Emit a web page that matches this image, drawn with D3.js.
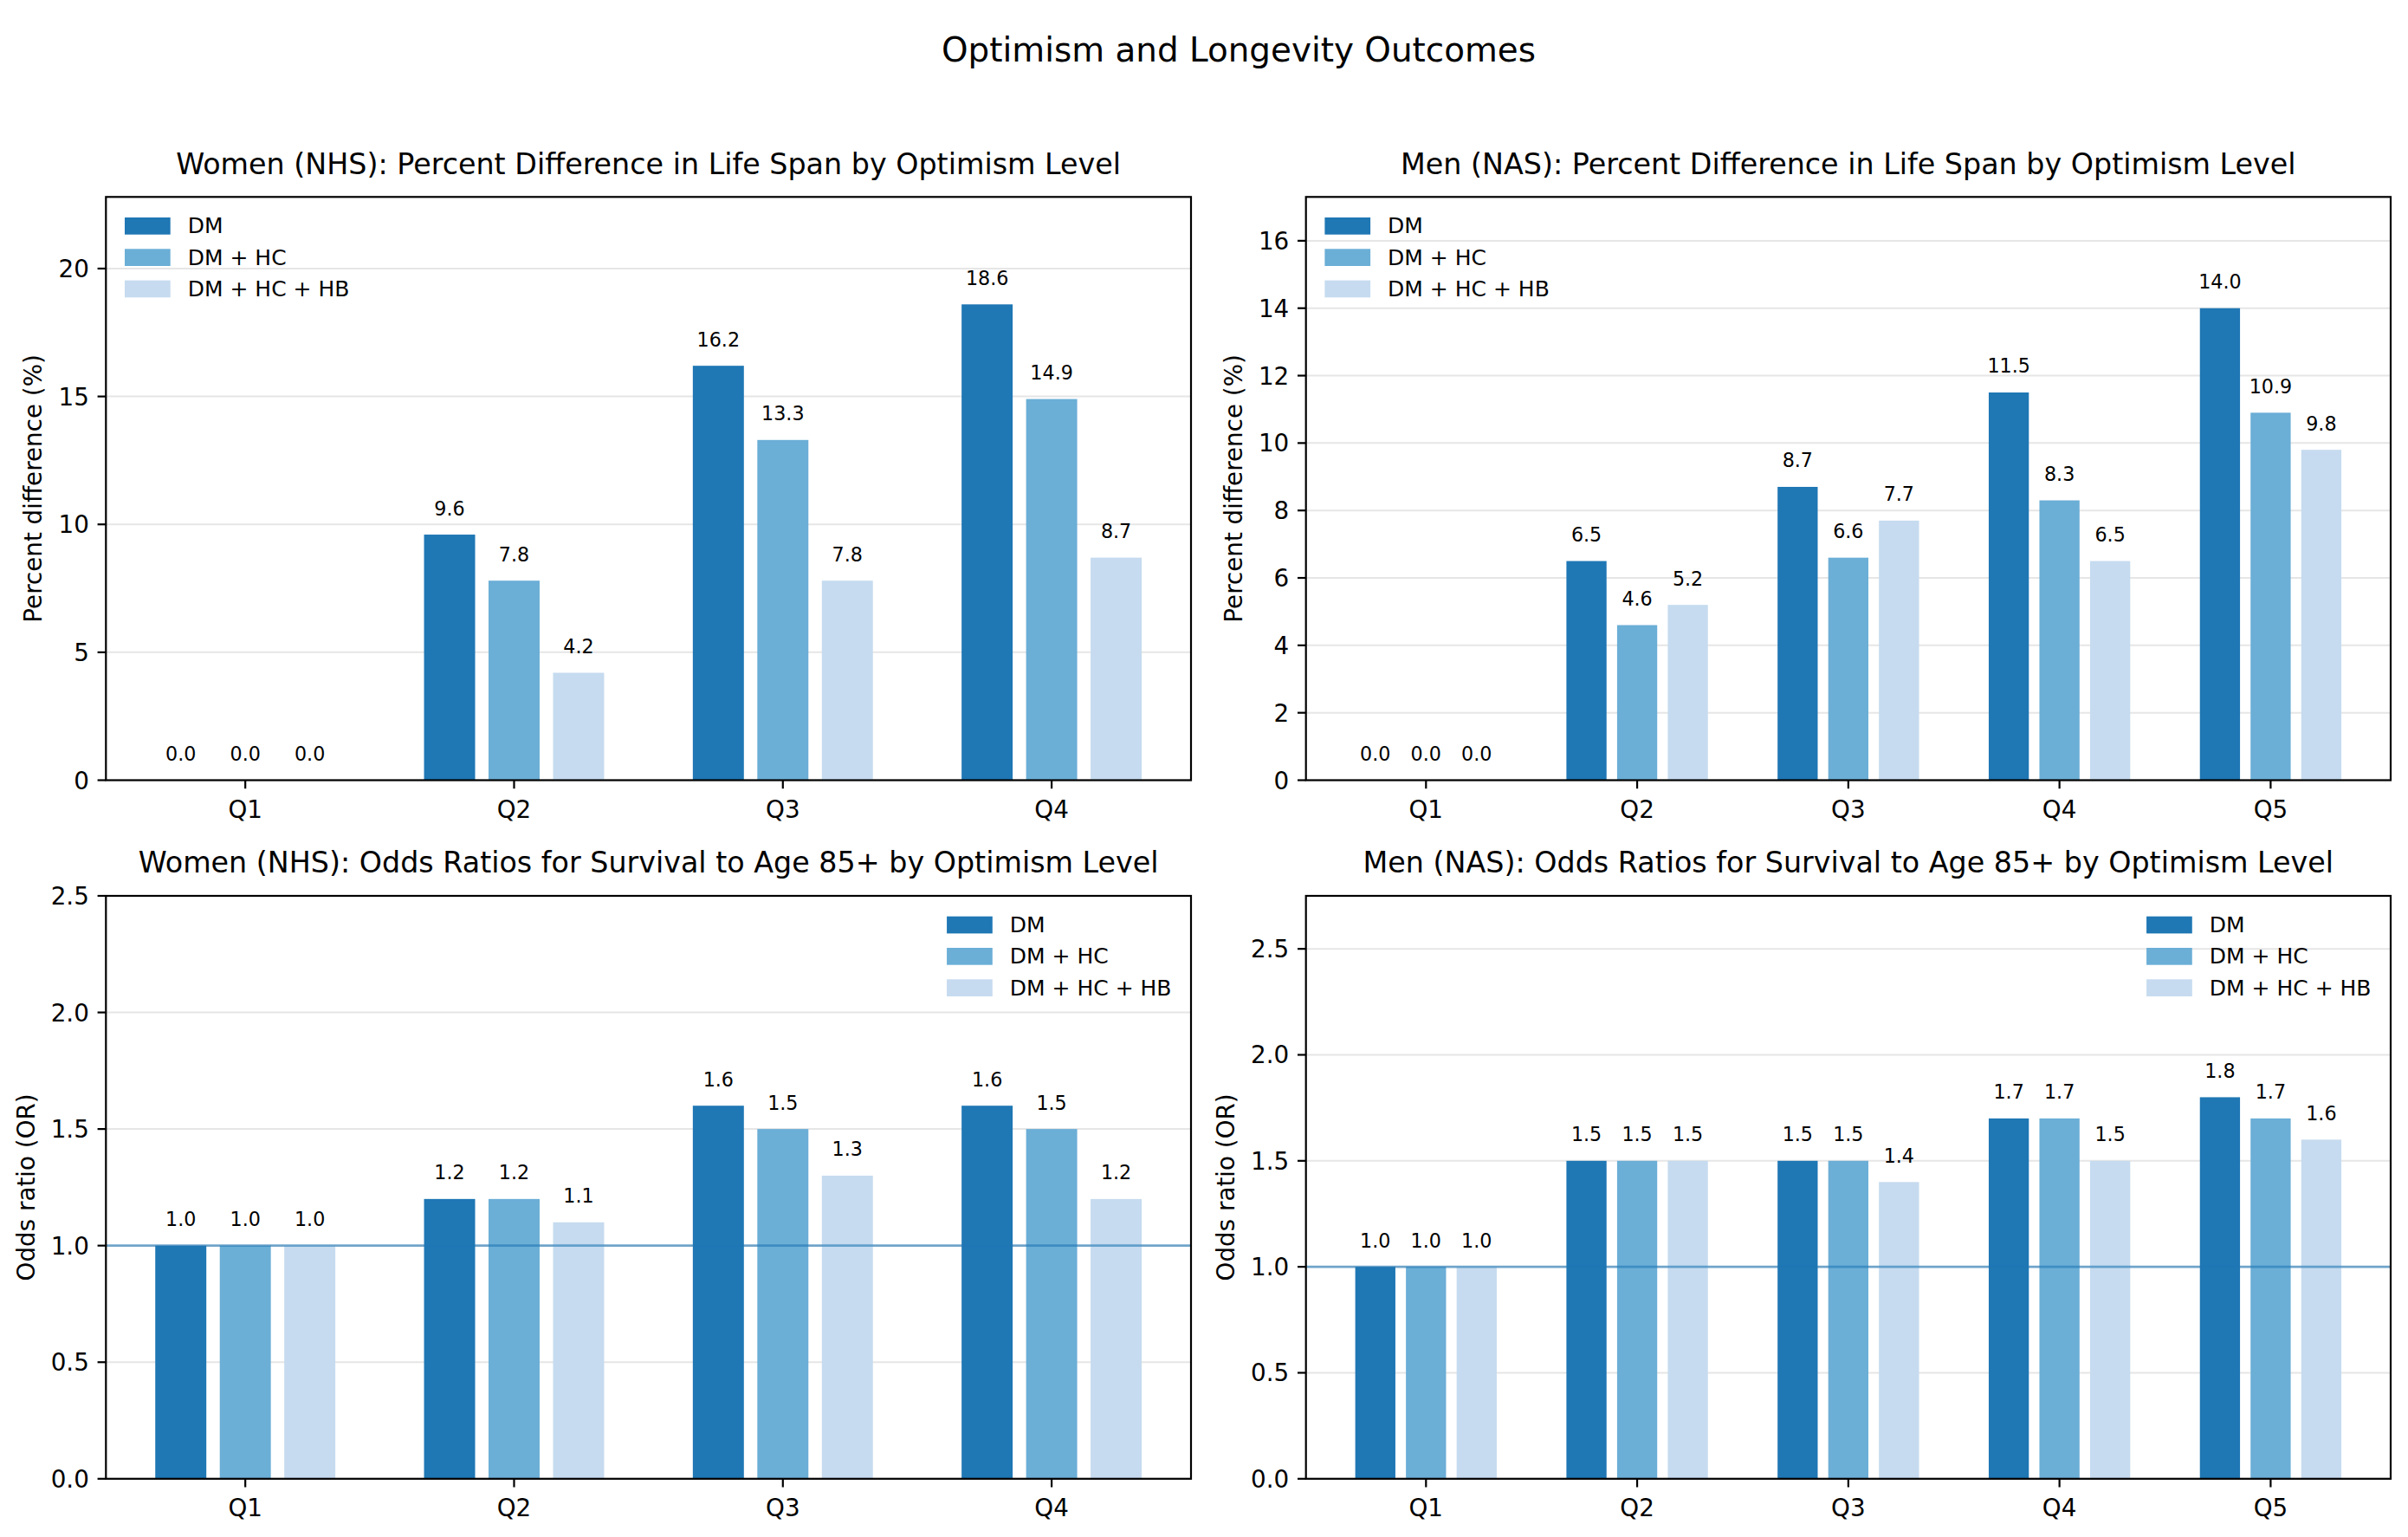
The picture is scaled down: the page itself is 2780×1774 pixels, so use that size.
<!DOCTYPE html>
<html>
<head>
<meta charset="utf-8">
<script src="https://cdn.jsdelivr.net/npm/d3@7"></script>
<style>
  body { margin: 0; background: #fff; }
  text { font-family: "DejaVu Sans", sans-serif; fill: #000; }
</style>
</head>
<body>
<div id="viz"></div>
<script>
// series / categories
const seriesNames = ['DM', 'DM + HC', 'DM + HC + HB'];
const seriesColors = ['#1f77b4', '#6baed6', '#c6dbef'];
const womenQuintiles = ['Q1', 'Q2', 'Q3', 'Q4'];
const menQuintiles = ['Q1', 'Q2', 'Q3', 'Q4', 'Q5'];

// percent difference in life span
const womenSpanDM = [0.0, 9.6, 16.2, 18.6];
const womenSpanHC = [0.0, 7.8, 13.3, 14.9];
const womenSpanHB = [0.0, 4.2, 7.8, 8.7];
const menSpanDM = [0.0, 6.5, 8.7, 11.5, 14.0];
const menSpanHC = [0.0, 4.6, 6.6, 8.3, 10.9];
const menSpanHB = [0.0, 5.2, 7.7, 6.5, 9.8];

// odds ratios for survival to 85+
const womenOrDM = [1.0, 1.2, 1.6, 1.6];
const womenOrHC = [1.0, 1.2, 1.5, 1.5];
const womenOrHB = [1.0, 1.1, 1.3, 1.2];
const menOrDM = [1.0, 1.5, 1.5, 1.7, 1.8];
const menOrHC = [1.0, 1.5, 1.5, 1.7, 1.7];
const menOrHB = [1.0, 1.5, 1.4, 1.5, 1.6];

// tick values
const womenSpanTicks = [0, 5, 10, 15, 20];
const menSpanTicks = [0, 2, 4, 6, 8, 10, 12, 14, 16];
const orTicks = [0, 0.5, 1.0, 1.5, 2.0, 2.5];

const W = 2780, H = 1774;
const PT = 200 / 72; // px per point

const svg = d3.select('#viz').append('svg')
  .attr('width', W).attr('height', H)
  .style('background', '#fff');

svg.append('text')
  .attr('x', 1430).attr('y', 71)
  .attr('text-anchor', 'middle')
  .style('font-size', (14 * PT) + 'px')
  .text('Optimism and Longevity Outcomes');

const panels = [
  { title: 'Women (NHS): Percent Difference in Life Span by Optimism Level',
    cats: womenQuintiles, values: [womenSpanDM, womenSpanHC, womenSpanHB],
    yMax: 22.8, ticks: womenSpanTicks, fmt: d3.format('d'),
    ylabel: 'Percent difference (%)', legend: 'left', ref: null,
    box: { x0: 122.3, x1: 1375, y0: 227.3, y1: 900.5 } },
  { title: 'Men (NAS): Percent Difference in Life Span by Optimism Level',
    cats: menQuintiles, values: [menSpanDM, menSpanHC, menSpanHB],
    yMax: 17.3, ticks: menSpanTicks, fmt: d3.format('d'),
    ylabel: 'Percent difference (%)', legend: 'left', ref: null,
    box: { x0: 1507.7, x1: 2760, y0: 227.3, y1: 900.5 } },
  { title: 'Women (NHS): Odds Ratios for Survival to Age 85+ by Optimism Level',
    cats: womenQuintiles, values: [womenOrDM, womenOrHC, womenOrHB],
    yMax: 2.5, ticks: orTicks, fmt: d3.format('.1f'),
    ylabel: 'Odds ratio (OR)', legend: 'right', ref: 1.0,
    box: { x0: 122.3, x1: 1375, y0: 1034, y1: 1706.8 } },
  { title: 'Men (NAS): Odds Ratios for Survival to Age 85+ by Optimism Level',
    cats: menQuintiles, values: [menOrDM, menOrHC, menOrHB],
    yMax: 2.75, ticks: orTicks, fmt: d3.format('.1f'),
    ylabel: 'Odds ratio (OR)', legend: 'right', ref: 1.0,
    box: { x0: 1507.7, x1: 2760, y0: 1034, y1: 1706.8 } }
];

const offset = 0.24, barW = 0.19;

function drawPanel(p) {
  const b = p.box;
  const n = p.cats.length;
  const edge = offset + barW / 2;
  const span = (n - 1) + 2 * edge;
  const x = d3.scaleLinear()
    .domain([-edge - 0.05 * span, (n - 1) + edge + 0.05 * span])
    .range([b.x0, b.x1]);
  const y = d3.scaleLinear().domain([0, p.yMax]).range([b.y1, b.y0]);
  const g = svg.append('g');

  // grid
  g.selectAll('.grid').data(p.ticks.filter(t => t <= p.yMax)).enter()
    .append('line')
    .attr('x1', b.x0).attr('x2', b.x1)
    .attr('y1', d => y(d)).attr('y2', d => y(d))
    .attr('stroke', '#e6e6e6').attr('stroke-width', 2);

  // bars + value labels
  p.values.forEach((vals, k) => {
    const dx = (k - 1) * offset;
    g.selectAll('.bar' + k).data(vals).enter()
      .append('rect')
      .attr('x', (d, i) => x(i + dx - barW / 2))
      .attr('width', x(barW) - x(0))
      .attr('y', d => y(d))
      .attr('height', d => y(0) - y(d))
      .attr('fill', seriesColors[k]);
    g.selectAll('.lab' + k).data(vals).enter()
      .append('text')
      .attr('x', (d, i) => x(i + dx))
      .attr('y', d => y(d) - 22.5)
      .attr('text-anchor', 'middle')
      .style('font-size', (8 * PT) + 'px')
      .text(d => d.toFixed(1));
  });

  // reference line at OR = 1
  if (p.ref !== null) {
    g.append('line')
      .attr('x1', b.x0).attr('x2', b.x1)
      .attr('y1', y(p.ref)).attr('y2', y(p.ref))
      .attr('stroke', '#1f77b4').attr('stroke-opacity', 0.6)
      .attr('stroke-width', 2.8);
  }

  // frame
  g.append('rect')
    .attr('x', b.x0).attr('y', b.y0)
    .attr('width', b.x1 - b.x0).attr('height', b.y1 - b.y0)
    .attr('fill', 'none').attr('stroke', '#000').attr('stroke-width', 2.2);

  const tickLen = 3.5 * PT, tickPad = 3.5 * PT;

  // y ticks
  const yt = g.selectAll('.yt').data(p.ticks.filter(t => t <= p.yMax)).enter();
  yt.append('line')
    .attr('x1', b.x0 - tickLen).attr('x2', b.x0)
    .attr('y1', d => y(d)).attr('y2', d => y(d))
    .attr('stroke', '#000').attr('stroke-width', 2.2);
  const ylabs = yt.append('text')
    .attr('x', b.x0 - tickLen - tickPad)
    .attr('y', d => y(d))
    .attr('dy', '0.36em')
    .attr('text-anchor', 'end')
    .style('font-size', (10 * PT) + 'px')
    .text(d => p.fmt(d));

  // x ticks
  const xt = g.selectAll('.xt').data(p.cats).enter();
  xt.append('line')
    .attr('x1', (d, i) => x(i)).attr('x2', (d, i) => x(i))
    .attr('y1', b.y1).attr('y2', b.y1 + tickLen)
    .attr('stroke', '#000').attr('stroke-width', 2.2);
  xt.append('text')
    .attr('x', (d, i) => x(i))
    .attr('y', b.y1 + 43)
    .attr('text-anchor', 'middle')
    .style('font-size', (10 * PT) + 'px')
    .text(d => d);

  // y label, placed left of the widest tick label
  let maxW = 0;
  ylabs.each(function () { maxW = Math.max(maxW, this.getBBox().width); });
  const lx = b.x0 - tickLen - tickPad - maxW - 4 * PT - 8;
  const ly = (b.y0 + b.y1) / 2;
  g.append('text')
    .attr('transform', `translate(${lx},${ly}) rotate(-90)`)
    .attr('text-anchor', 'middle')
    .style('font-size', (10 * PT) + 'px')
    .text(p.ylabel);

  // title
  g.append('text')
    .attr('x', (b.x0 + b.x1) / 2).attr('y', b.y0 - 26.6)
    .attr('text-anchor', 'middle')
    .style('font-size', (12 * PT) + 'px')
    .text(p.title);

  // legend
  const lg = g.append('g');
  const patchW = 52.7, patchH = 19.7, rowH = 36.3;
  seriesNames.forEach((s, k) => {
    lg.append('rect')
      .attr('x', 0).attr('y', k * rowH)
      .attr('width', patchW).attr('height', patchH)
      .attr('fill', seriesColors[k]);
    lg.append('text')
      .attr('x', patchW + 20).attr('y', k * rowH + patchH / 2 + 8.5)
      .style('font-size', (9 * PT) + 'px')
      .text(s);
  });
  const lw = lg.node().getBBox().width;
  const lx0 = p.legend === 'left' ? b.x0 + 21.7 : b.x1 - 22.5 - lw;
  lg.attr('transform', `translate(${lx0},${b.y0 + 23.7})`);
}

panels.forEach(drawPanel);
</script>
</body>
</html>
